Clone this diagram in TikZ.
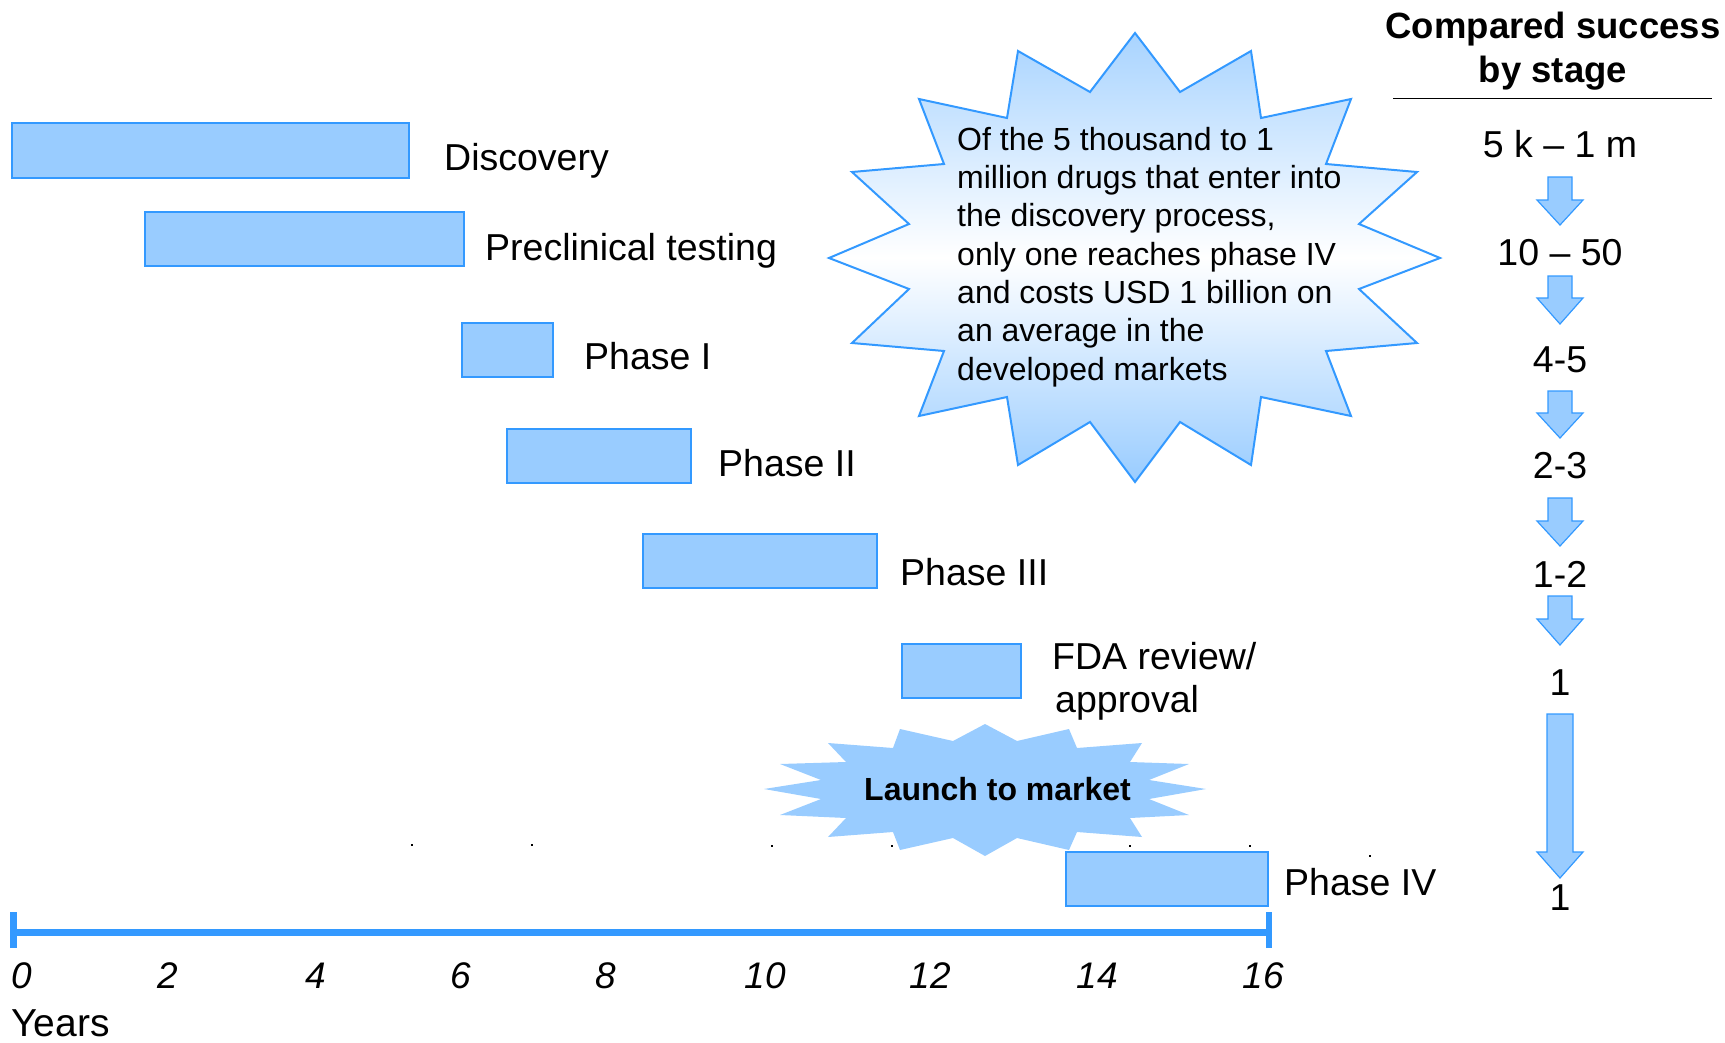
\documentclass[tikz,border=0pt]{standalone}
\usepackage{fontspec}
\setmainfont{Liberation Sans}
\definecolor{barfill}{HTML}{99CCFF}
\definecolor{barline}{HTML}{3399FF}
\begin{document}
\begin{tikzpicture}[x=1pt,y=-1pt,
  bar/.style={draw=barline, line width=1.5pt, fill=barfill},
  lbl/.style={anchor=base west, inner sep=0pt, font=\fontsize{37.5}{43}\selectfont},
  num/.style={anchor=base, inner sep=0pt, font=\fontsize{37.5}{43}\selectfont},
  tnum/.style={anchor=base, inner sep=0pt, font=\fontsize{37}{43}\selectfont\itshape},
  blockarrow/.style={draw=barline, line width=1.2pt, fill=barfill, line join=miter}]
\useasboundingbox (0,0) rectangle (1725,1042);

% bars
\path[bar] (12,123) rectangle (409,178);
\path[bar] (145,212) rectangle (464,266);
\path[bar] (462,323) rectangle (553,377);
\path[bar] (507,429) rectangle (691,483);
\path[bar] (643,534) rectangle (877,588);
\path[bar] (902,644) rectangle (1021,698);

% launch starburst
\fill[barfill] (985,724) -- (1017,741) -- (1069,729) -- (1077,748) -- (1142,743) -- (1130,762) -- (1189,764) -- (1149,780) -- (1206,789) -- (1149,799) -- (1189,815) -- (1130,818) -- (1142,837) -- (1077,832) -- (1069,850) -- (1017,838) -- (985,856) -- (953,838) -- (900,850) -- (893,832) -- (828,837) -- (846,818) -- (780,815) -- (821,799) -- (764,789) -- (821,780) -- (780,764) -- (846,762) -- (828,743) -- (893,748) -- (900,729) -- (953,741) -- cycle;
\node[anchor=base west, inner sep=0pt, font=\fontsize{32}{38}\selectfont\bfseries] (launch) at (864,800) {Launch to market};

\path[bar] (1066,852) rectangle (1268,906);

% tiny dots
\foreach \dx/\dy in {412/845,532/845,772/846,892/846,1130/846,1250/846,1370/856}
  \fill[black] (\dx-1,\dy-1) rectangle (\dx+1,\dy+1);

% big starburst
\draw[draw=barline, line width=2pt, line join=miter, top color=barfill!85, bottom color=barfill, middle color=white]
 (1135,33) -- (1180,92) -- (1251,51) -- (1261,118) -- (1351,99) -- (1326,164) -- (1417,172) -- (1359,224) -- (1440,258) -- (1359,289) -- (1417,343) -- (1326,351) -- (1351,416) -- (1261,397) -- (1251,465) -- (1180,422) -- (1135,482) -- (1090,422) -- (1018,465) -- (1007,397) -- (919,416) -- (944,351) -- (852,343) -- (909,289) -- (829,258) -- (909,224) -- (852,172) -- (944,164) -- (919,99) -- (1007,118) -- (1018,51) -- (1090,92) -- cycle;
\node[anchor=base west, inner sep=0pt, align=left, font=\fontsize{32}{38.3}\selectfont] (note) at (957,380)
 {Of the 5 thousand to 1\\million drugs that enter into\\the discovery process,\\only one reaches phase IV\\and costs USD 1 billion on\\an average in the\\developed markets};

% labels
\node[lbl] (ldisc) at (444,170) {Discovery};
\node[lbl] (lpre) at (485,260) {Preclinical testing};
\node[lbl] (lp1) at (584,369) {Phase I};
\node[lbl] (lp2) at (718,476) {Phase II};
\node[lbl] (lp3) at (900,585) {Phase III};
\node[lbl, align=left] (lfda) at (1052,712) {FDA review/\\\hspace*{3pt}approval};
\node[lbl] (lp4) at (1284,895) {Phase IV};

% axis
\coordinate (ax0) at (13.5,932.5);
\coordinate (ax16) at (1269,932.5);
\draw[barline, line width=7pt] (ax0) -- (ax16);
\draw[barline, line width=6.5pt] ([yshift=-15.5]ax0) -- ([yshift=20.5]ax0);
\draw[barline, line width=6.5pt] ([yshift=-15.5]ax16) -- ([yshift=20.5]ax16);
\foreach \tx/\tl in {22/0,168/2,316/4,461/6,606/8,765/10,930/12,1097/14,1263/16}
  \node[tnum] (t\tl) at (\tx,988) {\tl};
\node[lbl, font=\fontsize{39}{43}\selectfont] (years) at (11,1036) {Years};

% header
\node[anchor=base, inner sep=0pt, align=center, font=\fontsize{36.5}{44}\selectfont\bfseries] (head) at (1553,82) {Compared success\\by stage};
\coordinate (rl) at (1393,98);
\coordinate (rr) at (1712,98);
\draw[black, line width=1pt] (rl) -- (rr);

% success numbers
\node[num] (n1) at (1560,157) {5 k – 1 m};
\node[num] (n2) at (1560,265) {10 – 50};
\node[num] (n3) at (1560,372) {4-5};
\node[num] (n4) at (1560,478) {2-3};
\node[num] (n5) at (1560,587) {1-2};
\node[num] (n6) at (1560,695) {1};
\node[num] (n7) at (1560,910) {1};

% block arrows
\foreach \ta/\hb/\tp in {177/200/225,276/298/324,391/413/438,498/521/546,596/619/645}
  \draw[blockarrow] (1548,\ta) -- (1572,\ta) -- (1572,\hb) -- (1583,\hb) -- (1560,\tp) -- (1537,\hb) -- (1548,\hb) -- cycle;
\draw[blockarrow] (1547,714) -- (1573,714) -- (1573,852) -- (1583,852) -- (1560,878) -- (1537,852) -- (1547,852) -- cycle;
\end{tikzpicture}
\end{document}
